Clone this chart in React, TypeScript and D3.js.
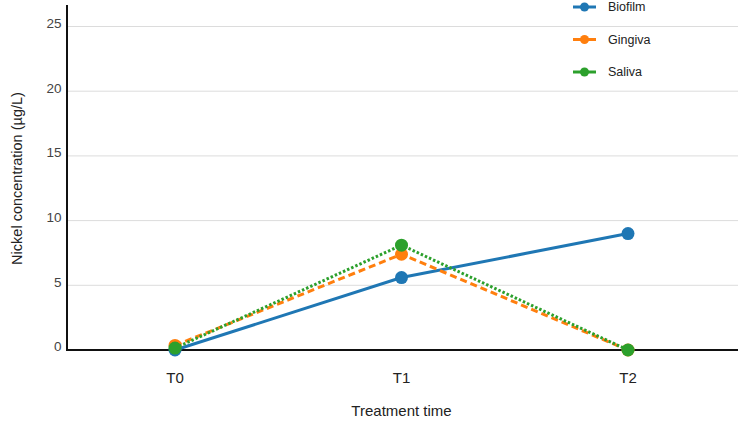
import { useEffect, useRef } from 'react';
import * as d3 from 'd3';

const categories = ['T0', 'T1', 'T2'];
const biofilm = [0, 5.6, 9.0];
const gingiva = [0.35, 7.4, 0];
const saliva = [0.15, 8.1, 0];
const yTicks = [0, 5, 10, 15, 20, 25];

const seriesList = [
  { name: 'Biofilm', values: biofilm, color: '#1f77b4', dash: null as string | null },
  { name: 'Gingiva', values: gingiva, color: '#ff7f0e', dash: '7,4' },
  { name: 'Saliva', values: saliva, color: '#2ca02c', dash: '2.5,2' },
];

const W = 738;
const H = 423;

export default function App() {
  const ref = useRef<SVGSVGElement>(null);

  useEffect(() => {
    if (!ref.current) return;
    const svg = d3.select(ref.current);
    svg.selectAll('*').remove();

    const left = 67;
    const x = d3.scalePoint<string>().domain(categories).range([175, 628]);
    const y = d3.scaleLinear().domain([0, 25]).range([350, 26.5]);
    const font = '"Liberation Sans", Arial, sans-serif';

    // gridlines
    svg.append('g')
      .selectAll('line')
      .data(yTicks.filter(t => t > 0))
      .join('line')
      .attr('x1', left)
      .attr('x2', W)
      .attr('y1', d => y(d))
      .attr('y2', d => y(d))
      .attr('stroke', '#dcdcdc')
      .attr('stroke-width', 1);

    // y tick labels
    svg.append('g')
      .selectAll('text')
      .data(yTicks)
      .join('text')
      .attr('x', left - 5.5)
      .attr('y', d => y(d))
      .attr('dy', '0.1em')
      .attr('text-anchor', 'end')
      .style('font-family', font)
      .style('font-size', '13.5px')
      .style('fill', '#444')
      .text(d => d);

    // axes lines
    svg.append('line')
      .attr('x1', left).attr('x2', left)
      .attr('y1', 5).attr('y2', y(0) + 1)
      .attr('stroke', '#111').attr('stroke-width', 2);
    svg.append('line')
      .attr('x1', left).attr('x2', W)
      .attr('y1', y(0)).attr('y2', y(0))
      .attr('stroke', '#111').attr('stroke-width', 2);

    // x tick labels
    svg.append('g')
      .selectAll('text')
      .data(categories)
      .join('text')
      .attr('x', d => x(d)!)
      .attr('y', 383)
      .attr('text-anchor', 'middle')
      .style('font-family', font)
      .style('font-size', '15px')
      .style('fill', '#222')
      .text(d => d);

    svg.append('text')
      .attr('x', 401.5)
      .attr('y', 416)
      .attr('text-anchor', 'middle')
      .style('font-family', font)
      .style('font-size', '15px')
      .style('fill', '#222')
      .text('Treatment time');

    svg.append('text')
      .attr('transform', `translate(22,178.5) rotate(-90)`)
      .attr('text-anchor', 'middle')
      .style('font-family', font)
      .style('font-size', '14.5px')
      .style('fill', '#222')
      .text('Nickel concentration (µg/L)');

    const line = d3.line<number>()
      .x((_, i) => x(categories[i])!)
      .y(d => y(d));

    seriesList.forEach(s => {
      svg.append('path')
        .datum(s.values)
        .attr('d', line)
        .attr('fill', 'none')
        .attr('stroke', s.color)
        .attr('stroke-width', 3)
        .attr('stroke-dasharray', s.dash);
      svg.append('g')
        .selectAll('circle')
        .data(s.values)
        .join('circle')
        .attr('cx', (_, i) => x(categories[i])!)
        .attr('cy', d => y(d))
        .attr('r', 6.5)
        .attr('fill', s.color);
    });

    // legend
    const lg = svg.append('g');
    seriesList.forEach((s, i) => {
      const ly = 7 + i * 32.5;
      lg.append('line')
        .attr('x1', 573).attr('x2', 596)
        .attr('y1', ly).attr('y2', ly)
        .attr('stroke', s.color).attr('stroke-width', 3);
      lg.append('circle')
        .attr('cx', 584.5).attr('cy', ly).attr('r', 4.5)
        .attr('fill', s.color);
      lg.append('text')
        .attr('x', 608)
        .attr('y', ly)
        .attr('dy', '0.35em')
        .style('font-family', font)
        .style('font-size', '12.5px')
        .style('fill', '#222')
        .text(s.name);
    });
  }, []);

  return (
    <svg
      ref={ref}
      width={W}
      height={H}
      style={{ position: 'absolute', left: 0, top: 0, background: '#fff' }}
    />
  );
}
